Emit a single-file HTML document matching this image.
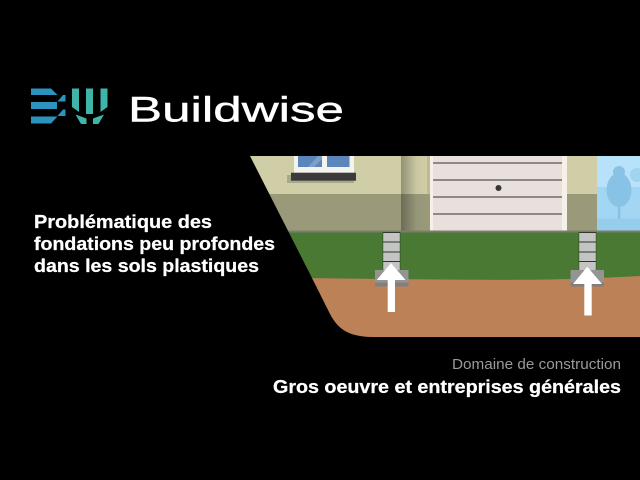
<!DOCTYPE html>
<html><head><meta charset="utf-8"><style>
html,body{margin:0;padding:0;background:#000;width:640px;height:480px;overflow:hidden}
svg{display:block}
text{font-family:"Liberation Sans",sans-serif}
</style></head><body>
<svg width="640" height="480" viewBox="0 0 640 480" xmlns="http://www.w3.org/2000/svg">
<defs>
<clipPath id="c"><path d="M250 156H640V337H372C348 336.500 338 329 330 314L312 278Z"/></clipPath>
<linearGradient id="p" x1="0" x2="1" y1="0" y2="0"><stop offset="0" stop-color="#000" stop-opacity=".3"/><stop offset=".6" stop-color="#000" stop-opacity=".03"/><stop offset="1" stop-color="#000" stop-opacity="0"/></linearGradient>
</defs>
<rect width="640" height="480" fill="#000"/>
<g clip-path="url(#c)">
<rect x="250" y="156" width="390" height="38" fill="#d0cea6"/>
<rect x="250" y="194" width="390" height="37" fill="#9a9a7b"/>
<rect x="401" y="156" width="26" height="75" fill="url(#p)"/>
<rect x="427" y="156" width="3" height="38" fill="#bdbb93"/>
<rect x="287" y="175" width="67" height="8" fill="#a9a888"/>
<rect x="294" y="156" width="60" height="17" fill="#f5f3ee"/>
<rect x="298" y="156" width="24" height="11" fill="#5a86bb"/>
<rect x="327" y="156" width="22.500" height="11" fill="#5a86bb"/>
<path d="M308 167L318 156H322V159L314 167Z" fill="#7f9fc7"/>
<rect x="291" y="172.700" width="65" height="8" fill="#3c3b3b"/>
<rect x="430" y="156" width="137" height="75" fill="#f6f0e8"/>
<rect x="433" y="156" width="129" height="75" fill="#e8e0dc"/>
<g fill="#8f8886"><rect x="433" y="162" width="129" height="2"/><rect x="433" y="179" width="129" height="2"/><rect x="433" y="196" width="129" height="2"/><rect x="433" y="213" width="129" height="2"/></g>
<circle cx="498.500" cy="188" r="3" fill="#3a3532"/>
<rect x="597" y="156" width="43" height="75" fill="#b8e2f9"/>
<rect x="597" y="187" width="43" height="44" fill="#a3d6f2"/>
<rect x="597" y="218.500" width="43" height="12.500" fill="#96cdec"/>
<circle cx="619" cy="172" r="6" fill="#88c2e4"/>
<ellipse cx="619" cy="190" rx="12.500" ry="17" fill="#88c2e4"/>
<rect x="617.800" y="200" width="2.600" height="19" fill="#88c2e4"/>
<circle cx="637" cy="175" r="7" fill="#a0d4f1"/>
<rect x="250" y="230.500" width="390" height="2" fill="#7b7d6e"/>
<rect x="250" y="232.500" width="390" height="50" fill="#4a7933"/>
<path d="M300 278C400 279 500 281 570 279C600 278 620 277 640 276V340H300Z" fill="#bd8157"/>
</g>
<g>
<rect x="382.700" y="232" width="17.600" height="39" fill="#2d3a2a"/>
<rect x="383.200" y="233" width="16.600" height="8.500" fill="#c4c4c4"/>
<rect x="383.200" y="242.500" width="16.600" height="9" fill="#c4c4c4"/>
<rect x="383.200" y="252.500" width="16.600" height="8.500" fill="#c4c4c4"/>
<rect x="383.200" y="262" width="16.600" height="8.500" fill="#c4c4c4"/>
<rect x="375" y="270" width="33.500" height="16.500" fill="#949494"/>
<rect x="375" y="282.500" width="33.500" height="4" fill="#7f7f7f"/>
<path d="M391 263L405.500 280H395V312H387.700V280H376.700Z" fill="#fff"/>
</g>
<g>
<rect x="578.700" y="232" width="17.600" height="39" fill="#2d3a2a"/>
<rect x="579.200" y="233" width="16.600" height="8.500" fill="#c4c4c4"/>
<rect x="579.200" y="242.500" width="16.600" height="9" fill="#c4c4c4"/>
<rect x="579.200" y="252.500" width="16.600" height="8.500" fill="#c4c4c4"/>
<rect x="579.200" y="262" width="16.600" height="8.500" fill="#c4c4c4"/>
<rect x="570.500" y="270" width="33.500" height="16.500" fill="#949494"/>
<rect x="570.500" y="282.500" width="33.500" height="4" fill="#7f7f7f"/>
<path d="M587.300 266.700L602 284H591.700V315.500H584.300V284H573Z" fill="#fff"/>
</g>
<!-- logo -->
<g fill="#2b93bd">
<path d="M31 88.500H51L57.500 95H31Z"/>
<rect x="31" y="102" width="26" height="7"/>
<path d="M31 116.500H57.500L51 123.500H31Z"/>
<path d="M57.500 101.500L63 95H65.500V101.500Z"/>
<path d="M57.500 116L63 109.500H65.500V116Z"/>
</g>
<g fill="#3fb5aa">
<path d="M72 88.500H79V112L72 107Z"/>
<path d="M86 88.500H93V114H86Z"/>
<path d="M100.500 88.500H107.500V107L100.500 112Z"/>
<path d="M75.500 114.500L86.500 118.500V124H81Z"/>
<path d="M104 114.500L93 118.500V124H98.500Z"/>
</g>
<text x="128" y="121.500" font-size="35" fill="#fff" stroke="#fff" stroke-width=".4" textLength="216" lengthAdjust="spacingAndGlyphs">Buildwise</text>
<g font-weight="700" fill="#fff" stroke="#fff" stroke-width=".25" font-size="18.500">
<text x="34" y="228" textLength="178" lengthAdjust="spacingAndGlyphs">Problématique des</text>
<text x="34" y="250" textLength="241" lengthAdjust="spacingAndGlyphs">fondations peu profondes</text>
<text x="34" y="272" textLength="225" lengthAdjust="spacingAndGlyphs">dans les sols plastiques</text>
</g>
<text x="452" y="369" font-size="15" fill="#9a9a9a" textLength="169" lengthAdjust="spacingAndGlyphs">Domaine de construction</text>
<text x="273" y="393" font-size="18" font-weight="700" fill="#fff" stroke="#fff" stroke-width=".25" textLength="348" lengthAdjust="spacingAndGlyphs">Gros oeuvre et entreprises générales</text>
</svg>
</body></html>
